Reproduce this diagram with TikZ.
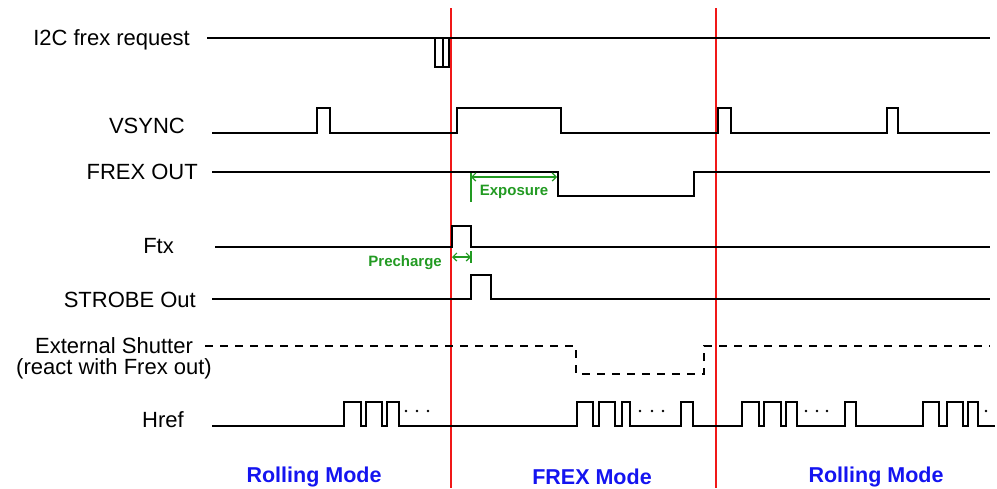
\documentclass[tikz,border=0pt]{standalone}
\usepackage{fontspec}
\setmainfont{Liberation Sans}
\usetikzlibrary{arrows.meta}
\definecolor{modeBlue}{HTML}{1414F0}
\definecolor{markRed}{HTML}{F01818}
\definecolor{dimGreen}{HTML}{229A22}
\tikzset{
  sig/.style={line width=2.4pt, black, line join=miter},
  sigDash/.style={sig, dash pattern=on 8pt off 7pt},
  modeLine/.style={line width=1.8pt, markRed},
  sigLabel/.style={anchor=base east, inner sep=0pt, font=\fontsize{22}{26}\selectfont},
  modeLabel/.style={anchor=base, inner sep=0pt, text=modeBlue, font=\bfseries\fontsize{21.5}{25}\selectfont},
  dimLine/.style={{Straight Barb[length=4pt]}-{Straight Barb[length=4pt]}, dimGreen, line width=1.2pt},
  dimTick/.style={dimGreen, line width=1.2pt},
  dimLabel/.style={inner sep=0pt, text=dimGreen, font=\bfseries\fontsize{15}{17}\selectfont},
}
\begin{document}
\begin{tikzpicture}[x=1pt, y=-1pt]
  \useasboundingbox (0,0) rectangle (997,488);
  % signal names
  \node[sigLabel] (nI2C) at (190,45) {I2C frex request};
  \node[sigLabel] (nVsync) at (185,133) {VSYNC};
  \node[sigLabel] (nFrex) at (198,179) {FREX OUT};
  \node[sigLabel] (nFtx) at (174,253) {Ftx};
  \node[sigLabel] (nStrobe) at (196,307) {STROBE Out};
  \node[sigLabel, anchor=center, align=center, font=\fontsize{22}{21}\selectfont]
    (nShutter) at (114,358) {External Shutter\\(react with Frex out)};
  \node[sigLabel] (nHref) at (184,427) {Href};
  % mode boundaries
  \draw[modeLine] (451,8) -- (451,488);
  \draw[modeLine] (716,8) -- (716,488);
  % waveforms
  \draw[sig] (207,38) -- (990,38);
  \draw[sig] (435,38) -- (435,67) -- (449,67) -- (449,38);
  \draw[sig] (443,38) -- (443,67);
  \draw[sig] (212,133) -- (317,133) -- (317,108) -- (330,108) -- (330,133)
    -- (457,133) -- (457,108) -- (561,108) -- (561,133)
    -- (718,133) -- (718,108) -- (731,108) -- (731,133)
    -- (887,133) -- (887,108) -- (898,108) -- (898,133) -- (990,133);
  \draw[sig] (212,172) -- (558,172) -- (558,196) -- (694,196) -- (694,172) -- (990,172);
  \draw[sig] (215,247) -- (452,247) -- (452,226) -- (471,226) -- (471,247) -- (990,247);
  \draw[sig] (212,299) -- (471,299) -- (471,275) -- (491,275) -- (491,299) -- (990,299);
  \draw[sigDash] (205,346) -- (576,346) -- (576,374) -- (704,374) -- (704,346) -- (990,346);
  \draw[sig] (212,426)
    \foreach \a/\b in {344/361, 366/382, 387/399, 577/593, 599/615, 622/630, 681/693,
                       742/759, 764/781, 786/797, 845/856, 923/939, 947/963, 968/978}
      { -- (\a,426) -- (\a,402) -- (\b,402) -- (\b,426) } -- (995,426);
  \foreach \x in {406, 417, 428, 640, 652, 663, 806, 817, 827, 986}
    \fill (\x,411) circle (1.4pt);
  % exposure / precharge
  \draw[dimTick] (471,173) -- (471,202);
  \draw[dimLine] (471,177) -- (557,177);
  \node[dimLabel] (lExposure) at (514,192) {Exposure};
  \draw[dimTick] (471,251) -- (471,263);
  \draw[dimLine] (452,257) -- (471,257);
  \node[dimLabel, anchor=east] (lPrecharge) at (442,263) {Precharge};
  % modes
  \node[modeLabel] (mRoll1) at (314,482) {Rolling Mode};
  \node[modeLabel] (mFrex) at (592,484) {FREX Mode};
  \node[modeLabel] (mRoll2) at (876,482) {Rolling Mode};
\end{tikzpicture}
\end{document}
